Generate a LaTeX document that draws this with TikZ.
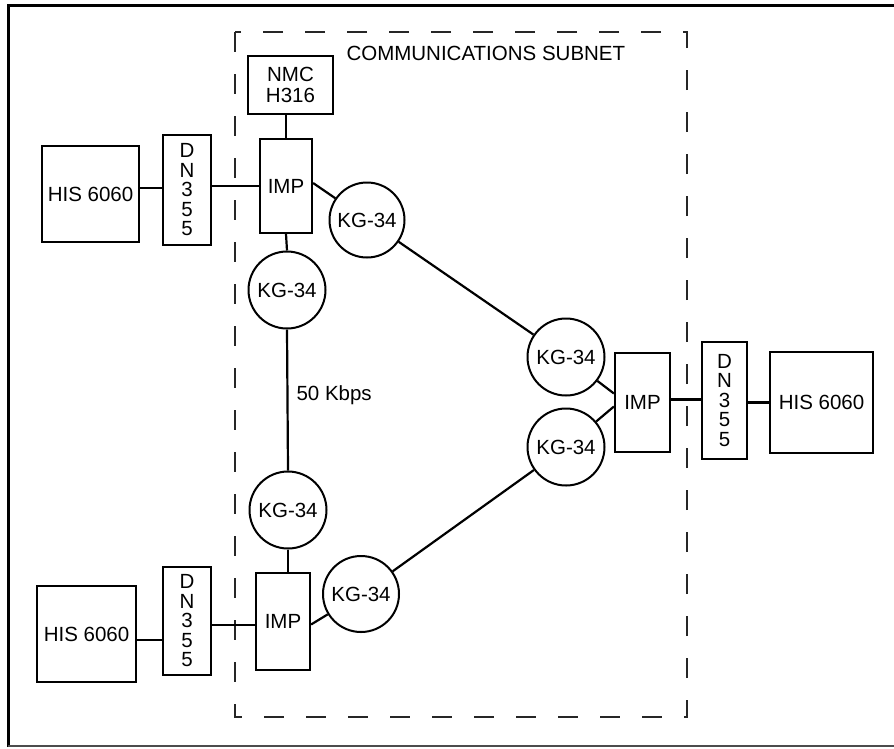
\documentclass[tikz,border=0pt]{standalone}
\usepackage{fontspec}
\setmainfont{Liberation Sans}
\begin{document}
\begin{tikzpicture}[x=1pt,y=-1pt,
  every node/.style={font=\fontsize{20.5}{21}\selectfont},
  box/.style={draw, line width=2.2pt, inner sep=0pt, align=center},
  kg/.style={draw, circle, line width=2pt, inner sep=0pt},
  conn/.style={line width=2.2pt},
  stack/.style={box, font=\fontsize{20.5}{19.5}\selectfont}
]
\useasboundingbox (0,0) rectangle (894,748);
% outer frame
\draw[line width=3pt] (8,747) -- (8,5) -- (894,5);
\draw[line width=1.5pt, black!70] (8,746) -- (894,746);
% subnet
\draw[line width=2pt, dash pattern=on 20pt off 22pt, black!85] (235,32) rectangle (687,717);
\node[anchor=west] (title) at (343,53) {COMMUNICATIONS SUBNET};

% nodes
\node[box, minimum width=85pt, minimum height=58pt] (nmc) at (290.5,85) {NMC\\H316};
\node[box, minimum width=52pt, minimum height=94pt] (imp1) at (286,186) {IMP};
\node[box, minimum width=97pt, minimum height=96pt] (his1) at (90.5,194) {HIS 6060};
\node[stack, minimum width=48pt, minimum height=110pt] (dn1) at (187,190) {D\\N\\3\\5\\5};
\node[kg, minimum size=75pt] (kg1) at (367,220) {KG-34};
\node[kg, minimum size=77pt] (kg2) at (287,290) {KG-34};
\node[kg, minimum size=77pt] (kg3) at (288,510) {KG-34};
\node[box, minimum width=54pt, minimum height=97pt] (imp3) at (283,621.5) {IMP};
\node[box, minimum width=99pt, minimum height=96pt] (his3) at (86.5,634) {HIS 6060};
\node[stack, minimum width=48pt, minimum height=108pt] (dn3) at (187,621) {D\\N\\3\\5\\5};
\node[kg, minimum size=76pt] (kg4) at (361,594) {KG-34};
\node[kg, minimum size=77pt] (kg5) at (566,357) {KG-34};
\node[kg, minimum size=77pt] (kg6) at (566,447) {KG-34};
\node[box, minimum width=55pt, minimum height=99pt] (imp2) at (642.5,402.5) {IMP};
\node[stack, minimum width=45pt, minimum height=117pt] (dn2) at (724.5,400.5) {D\\N\\3\\5\\5};
\node[box, minimum width=103pt, minimum height=101pt] (his2) at (821.5,402.5) {HIS 6060};
\node[anchor=west] (rate) at (293,395) {50 Kbps};

% connectors
\draw[conn] ([yshift=6pt]his1.east) -- ([yshift=6pt]his1.east -| dn1.west);
\draw[conn] (imp1.west -| dn1.east) -- (imp1.west);
\draw[conn] (imp1.north |- nmc.south) -- (imp1.north);
\draw[conn] ([yshift=3pt]imp1.east) -- (kg1);
\draw[conn] (imp1.south) -- (kg2.north);
\draw[conn] (kg2.south) -- (kg3.north);
\draw[conn] (kg3.south) -- (kg3.south |- imp3.north);
\draw[conn] (kg1) -- (kg5);
\draw[conn] ([yshift=-3pt]imp3.east) -- (kg4);
\draw[conn] (kg4) -- (kg6);
\draw[conn] (kg5) -- ([yshift=9pt]imp2.west);
\draw[conn] (kg6) -- ([yshift=-4pt]imp2.west);
\draw[conn] ([yshift=3pt]imp2.east) -- ([yshift=3pt]imp2.east -| dn2.west);
\draw[conn] (dn2.east |- his2.west) -- (his2.west);
\draw[conn] ([yshift=-6pt]his3.east) -- ([yshift=-6pt]his3.east -| dn3.west);
\draw[conn] ([yshift=-4pt]dn3.east) -- ([yshift=-4pt]dn3.east -| imp3.west);
\end{tikzpicture}
\end{document}
